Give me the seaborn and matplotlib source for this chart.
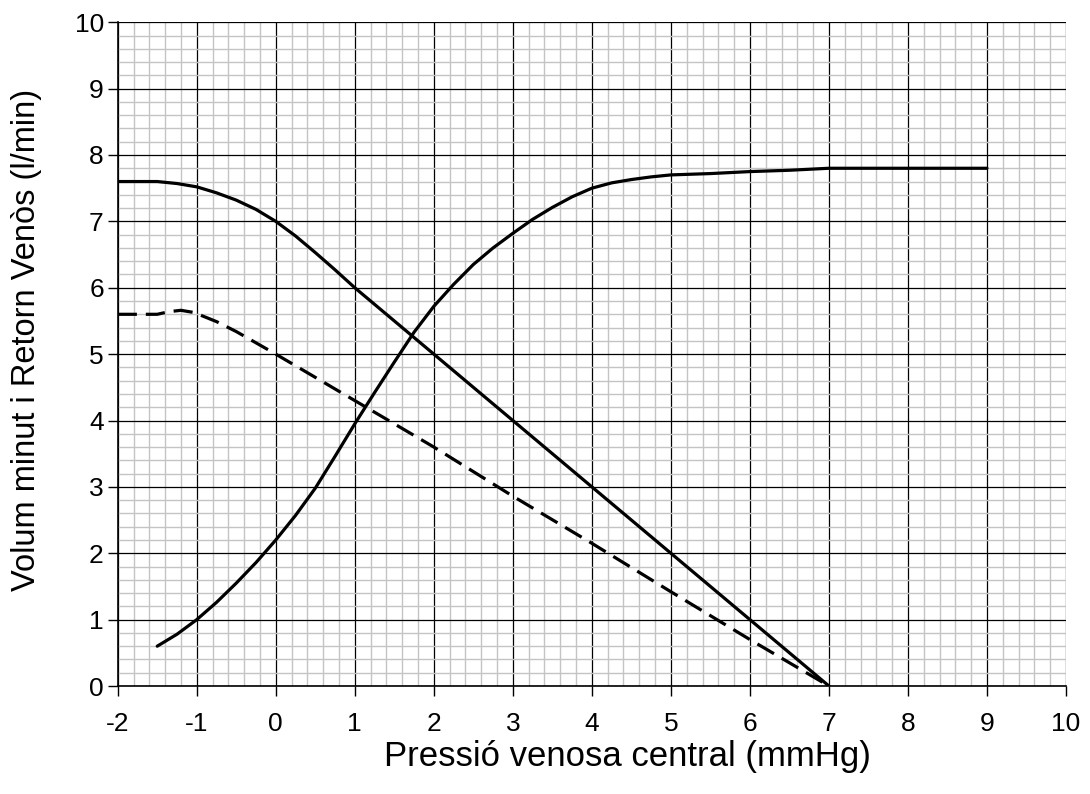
import matplotlib
matplotlib.use("Agg")
import matplotlib.pyplot as plt
import seaborn as sns
from matplotlib.ticker import MultipleLocator

# corba de retorn venós (normal)
rv_x = [-2, -1.5, -1.25, -1, -0.75, -0.5, -0.25, 0, 0.25, 0.5, 0.75, 1, 2, 3, 4, 5, 6, 7]
rv_y = [7.6, 7.6, 7.57, 7.52, 7.43, 7.32, 7.18, 7.0, 6.78, 6.53, 6.27, 6.0, 5.0, 4.0, 3.0, 2.0, 1.0, 0.0]

# corba de retorn venós (disminuïda, discontínua)
rd_x = [-2, -1.75, -1.5, -1.35, -1.2, -1.05, -1, -0.75, -0.5, -0.25, 0, 0.5, 1, 2, 3, 4, 5, 6, 7]
rd_y = [5.6, 5.6, 5.6, 5.64, 5.66, 5.63, 5.61, 5.49, 5.34, 5.17, 5.0, 4.65, 4.3, 3.6, 2.86, 2.15,
        1.42, 0.7, 0.0]

# corba de funció cardíaca (volum minut)
vm_x = [-1.5, -1.25, -1, -0.75, -0.5, -0.25, 0, 0.25, 0.5, 0.75, 1, 1.25, 1.5, 1.75, 2,
        2.25, 2.5, 2.75, 3, 3.25, 3.5, 3.75, 4, 4.25, 4.5, 4.75, 5, 5.5, 6, 6.5, 7, 8, 9]
vm_y = [0.6, 0.78, 1.0, 1.26, 1.55, 1.86, 2.2, 2.57, 2.98, 3.46, 3.95, 4.42, 4.88, 5.33, 5.72,
        6.05, 6.35, 6.6, 6.82, 7.03, 7.21, 7.37, 7.5, 7.58, 7.63, 7.67, 7.7, 7.72, 7.75, 7.77,
        7.8, 7.8, 7.8]

sns.set_theme(style="white")
plt.rcParams['font.family'] = ['Liberation Sans', 'DejaVu Sans']
plt.rcParams['axes.unicode_minus'] = False
plt.rcParams['text.color'] = 'black'
plt.rcParams['axes.labelcolor'] = 'black'
plt.rcParams['xtick.color'] = 'black'
plt.rcParams['ytick.color'] = 'black'

fig, ax = plt.subplots(figsize=(10.9, 7.94), dpi=100)
fig.subplots_adjust(left=0.108, right=0.978, top=0.972, bottom=0.136)

lw = 2.3
sns.lineplot(x=rv_x, y=rv_y, ax=ax, color="black", linewidth=lw, sort=False)
sns.lineplot(x=rd_x, y=rd_y, ax=ax, color="black", linewidth=lw, sort=False,
             linestyle=(0, (6, 2.8)))
sns.lineplot(x=vm_x, y=vm_y, ax=ax, color="black", linewidth=lw, sort=False)

ax.set_xlim(-2, 10)
ax.set_ylim(0, 10)
ax.xaxis.set_major_locator(MultipleLocator(1))
ax.yaxis.set_major_locator(MultipleLocator(1))
ax.xaxis.set_minor_locator(MultipleLocator(0.2))
ax.yaxis.set_minor_locator(MultipleLocator(0.2))

ax.grid(which="minor", color="#c4c4c4", linewidth=1.0)
ax.grid(which="major", color="black", linewidth=0.9)
ax.set_axisbelow(True)

ax.tick_params(which="major", direction="out", length=7, width=1,
               labelsize=19, bottom=True, left=True)
ax.tick_params(axis="x", which="major", pad=12)
ax.tick_params(axis="y", which="major", pad=3)
ax.tick_params(which="minor", length=0)

for side in ["top", "right"]:
    ax.spines[side].set_visible(False)
for side in ["left", "bottom"]:
    ax.spines[side].set_color("black")
    ax.spines[side].set_linewidth(1.2)

# el títol de l'eix X no està centrat a l'eix (com a l'original)
ax.set_xlabel("Pressió venosa central (mmHg)", fontsize=25, va="center")
ax.set_ylabel("Volum minut i Retorn Venòs (l/min)", fontsize=23.5, va="center")
ax.xaxis.set_label_coords(0.538, -0.106)
ax.yaxis.set_label_coords(-0.096, 0.521)

fig.savefig("out.png", dpi=100)
